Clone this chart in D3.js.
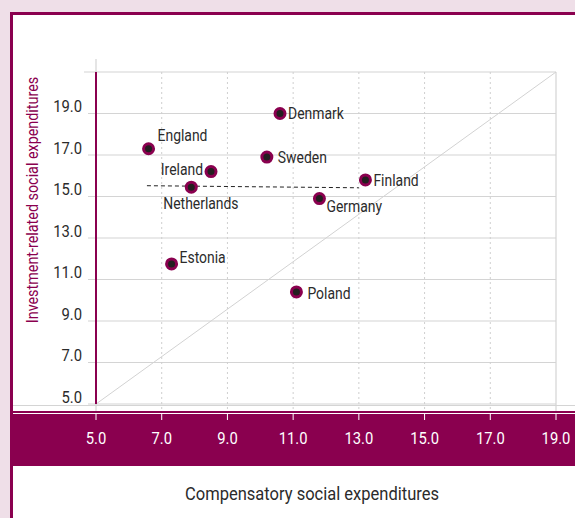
<!DOCTYPE html>
<html lang="en">
<head>
  <meta charset="UTF-8">
  <title>Social expenditures scatter</title>
  <script src="https://d3js.org/d3.v7.min.js"></script>
  <style>
    body {
      margin: 0;
      overflow: hidden;
      background-color: #efdfe8;
      font-family: 'Roboto', sans-serif;
    }
    svg { display: block; }
    .grid-h { stroke: #d4d4d4; stroke-width: 1.2px; }
    .grid-v { stroke: #cfcfcf; stroke-width: 1px; stroke-dasharray: 2 3; }
    .tick-label { font-size: 17px; fill: #2b2b2b; }
    .x-tick-label { font-size: 17px; fill: #fff; text-anchor: middle; }
    .point { fill: #231f20; stroke: #8a004f; stroke-width: 3px; }
    .point-label { font-size: 16px; fill: #2b2b2b; }
  </style>
</head>
<body>
<svg></svg>
<script>
  // data
  const countries = ["England", "Denmark", "Sweden", "Ireland", "Netherlands", "Finland", "Germany", "Estonia", "Poland"];
  const compensatory = [6.6, 10.6, 10.2, 8.5, 7.9, 13.2, 11.8, 7.3, 11.1];
  const investment = [17.3, 19.0, 16.9, 16.2, 15.45, 15.8, 14.9, 11.75, 10.4];
  // label placement: [dx, dy, anchor]
  const labelPos = [
    [9, -13, "start"], [8, 0, "start"], [11, 0, "start"], [-8, -2, "end"],
    [-28, 16, "start"], [8, 1, "start"], [7, 8, "start"], [8, -6, "start"], [11, 2, "start"]
  ];
  const xTicks = [5, 7, 9, 11, 13, 15, 17, 19];
  const yTicks = [5, 7, 9, 11, 13, 15, 17, 19];
  const dashX = [6.55, 13.0];
  const dashY = [15.52, 15.42];

  const W = 575, H = 518;
  const magenta = "#8a004f";
  const narrow = 0.87; // the original typeface is condensed
  const svg = d3.select("svg").attr("width", W).attr("height", H);

  const x = d3.scaleLinear().domain([5, 19]).range([96, 556]);
  const y = d3.scaleLinear().domain([5, 21]).range([404, 72]);

  const place = (px, py, rot) => `translate(${px},${py})${rot ? " rotate(" + rot + ")" : ""} scale(${narrow},1)`;

  // white panel with magenta frame
  svg.append("rect").attr("x", 11).attr("y", 13).attr("width", W).attr("height", H)
    .attr("fill", "#fff");
  svg.append("line").attr("x1", 10).attr("x2", W).attr("y1", 13.5).attr("y2", 13.5)
    .attr("stroke", magenta).attr("stroke-width", 3);
  svg.append("line").attr("x1", 11.5).attr("x2", 11.5).attr("y1", 12).attr("y2", H)
    .attr("stroke", magenta).attr("stroke-width", 3);

  const g = svg.append("g");

  // horizontal grid
  g.selectAll(".grid-h").data([21].concat(yTicks)).join("line")
    .attr("class", "grid-h")
    .attr("x1", d => d === 21 ? 84 : 88).attr("x2", x(19))
    .attr("y1", d => y(d)).attr("y2", d => y(d));
  g.append("line").attr("class", "grid-h")
    .attr("x1", 13).attr("x2", W).attr("y1", 405.5).attr("y2", 405.5);

  // vertical grid
  g.selectAll(".grid-v").data(xTicks.slice(1, -1)).join("line")
    .attr("class", "grid-v")
    .attr("x1", d => x(d)).attr("x2", d => x(d))
    .attr("y1", y(21)).attr("y2", 411);
  g.append("line").attr("class", "grid-h")
    .attr("x1", x(19)).attr("x2", x(19)).attr("y1", y(21)).attr("y2", 411);
  g.append("line").attr("class", "grid-h")
    .attr("x1", x(5)).attr("x2", x(5)).attr("y1", 59).attr("y2", 411);

  // diagonal
  g.append("line")
    .attr("x1", x(5)).attr("y1", y(5)).attr("x2", x(19)).attr("y2", y(21))
    .attr("stroke", "#d2d2d2").attr("stroke-width", 1);

  // y axis line
  g.append("line").attr("x1", x(5)).attr("x2", x(5)).attr("y1", y(21)).attr("y2", y(5))
    .attr("stroke", magenta).attr("stroke-width", 2);

  // y tick labels
  g.selectAll(".tick-label").data(yTicks).join("text")
    .attr("class", "tick-label")
    .attr("transform", d => place(82, y(d) - 1.5))
    .attr("text-anchor", "end")
    .text(d => d.toFixed(1));

  // x band
  svg.append("rect").attr("x", 13).attr("y", 411).attr("width", W).attr("height", 55)
    .attr("fill", magenta);
  svg.append("line").attr("x1", 13).attr("x2", W).attr("y1", 413.5).attr("y2", 413.5)
    .attr("stroke", "#fff").attr("stroke-width", 1.2);
  const xAxis = svg.append("g");
  xAxis.selectAll("line").data(xTicks).join("line")
    .attr("x1", d => x(d)).attr("x2", d => x(d)).attr("y1", 413).attr("y2", 420)
    .attr("stroke", "#fff").attr("stroke-width", 1);
  xAxis.selectAll("text").data(xTicks).join("text")
    .attr("class", "x-tick-label")
    .attr("transform", d => place(x(d), 444))
    .text(d => d.toFixed(1));

  // dashed reference line
  g.append("line")
    .attr("x1", x(dashX[0])).attr("y1", y(dashY[0]))
    .attr("x2", x(dashX[1])).attr("y2", y(dashY[1]))
    .attr("stroke", "#222").attr("stroke-width", 1).attr("stroke-dasharray", "4 3");

  // points
  const pts = countries.map((c, i) => ({ name: c, cx: compensatory[i], cy: investment[i], lp: labelPos[i] }));
  g.selectAll(".point").data(pts).join("circle")
    .attr("class", "point")
    .attr("cx", d => x(d.cx)).attr("cy", d => y(d.cy))
    .attr("r", 5);
  g.selectAll(".point-label").data(pts).join("text")
    .attr("class", "point-label")
    .attr("transform", d => place(x(d.cx) + d.lp[0], y(d.cy) + d.lp[1] + 5.5))
    .attr("text-anchor", d => d.lp[2])
    .text(d => d.name);

  // axis titles
  svg.append("text")
    .attr("transform", place(38, 200, -90))
    .attr("text-anchor", "middle")
    .attr("fill", magenta).attr("font-size", 16.5)
    .text("Investment-related social expenditures");
  svg.append("text")
    .attr("transform", place(312, 500))
    .attr("text-anchor", "middle")
    .attr("fill", "#2b2b2b").attr("font-size", 19)
    .text("Compensatory social expenditures");
</script>
</body>
</html>
